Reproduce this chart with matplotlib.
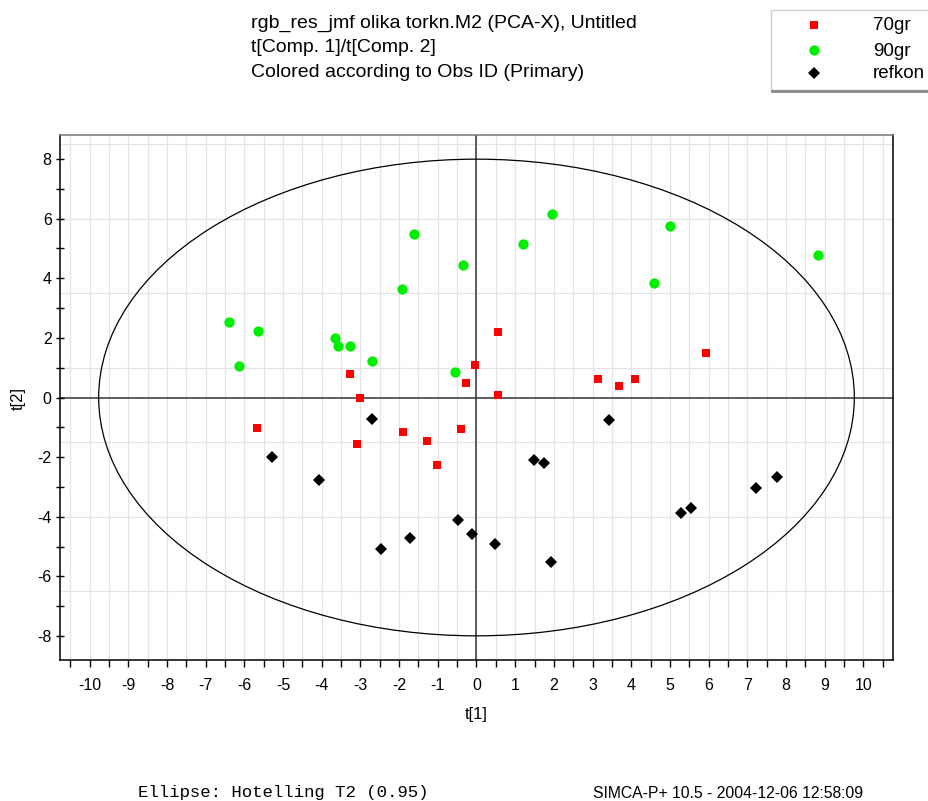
import matplotlib
matplotlib.use("Agg")
import matplotlib.pyplot as plt
import numpy as np
from matplotlib.patches import Ellipse, Rectangle
from matplotlib.lines import Line2D

# scores per class: t[1], t[2]
t1_70gr = [-3.28, -3.01, -0.26, -0.03, 0.56, 0.56, 3.15, 3.69, 4.10, 5.94,
           -5.68, -3.08, -1.91, -1.29, -1.03, -0.39]
t2_70gr = [0.79, 0.00, 0.49, 1.08, 2.20, 0.08, 0.62, 0.39, 0.62, 1.50,
           -1.02, -1.56, -1.16, -1.47, -2.26, -1.06]

t1_90gr = [-6.41, -6.13, -5.66, -3.67, -3.58, -3.27, -2.71, -1.93, -1.62, -0.36,
           -0.56, 1.96, 1.21, 5.01, 4.58, 8.82]
t2_90gr = [2.52, 1.06, 2.22, 2.01, 1.72, 1.72, 1.22, 3.63, 5.49, 4.44,
           0.86, 6.14, 5.13, 5.75, 3.84, 4.79]

t1_refkon = [-5.30, -4.07, -2.71, -2.48, -1.72, -0.47, -0.12, 0.47, 1.93, 1.49,
             1.74, 3.42, 5.30, 5.54, 7.22, 7.78]
t2_refkon = [-2.00, -2.75, -0.71, -5.08, -4.72, -4.11, -4.56, -4.91, -5.52, -2.09,
             -2.20, -0.75, -3.86, -3.70, -3.05, -2.66]

# Hotelling T2 (0.95) ellipse semi-axes
t2_radius_t1 = 9.77
t2_radius_t2 = 7.99

classes = ["70gr", "90gr", "refkon"]
styles = {
    "70gr": dict(marker="s", color="#ff0000", ms=6.0),
    "90gr": dict(marker="o", color="#00ee00", ms=7.4),
    "refkon": dict(marker="D", color="black", ms=6.3),
}
series = {"70gr": (t1_70gr, t2_70gr), "90gr": (t1_90gr, t2_90gr),
          "refkon": (t1_refkon, t2_refkon)}

plt.rcParams["font.family"] = ["Liberation Sans", "DejaVu Sans"]
plt.rcParams["axes.unicode_minus"] = False

W, H = 929, 801
fig = plt.figure(figsize=(W / 100, H / 100), dpi=100)
ax = fig.add_axes([60 / W, (H - 660) / H, 833 / W, 525 / H])

ax.set_xlim(-10.77, 10.77)
ax.set_ylim(-8.8, 8.8)

# grid
for gx in np.arange(-10.5, 10.51, 0.5):
    ax.axvline(gx, color="#e4e4e4", lw=0.9, zorder=0)
for gy in np.arange(-6.5, 8.6, 2.5):
    ax.axhline(gy, color="#e4e4e4", lw=0.9, zorder=0)
ax.axvline(0, color="#333333", lw=1.1, zorder=1)
ax.axhline(0, color="#333333", lw=1.1, zorder=1)

ax.add_patch(Ellipse((0, 0), 2 * t2_radius_t1, 2 * t2_radius_t2,
                     fill=False, ec="black", lw=0.9, zorder=2))

for name in classes:
    x, y = series[name]
    st = styles[name]
    ax.plot(x, y, linestyle="none", marker=st["marker"], color=st["color"],
            markersize=st["ms"], markeredgewidth=0, zorder=3)

# ticks
ax.set_xticks(np.arange(-10, 11, 1))
ax.set_xticklabels([str(v) for v in range(-10, 11)])
ax.set_xticks(np.arange(-10.5, 10.6, 0.5), minor=True)
ax.set_yticks(np.arange(-8, 9, 2))
ax.set_yticks(np.arange(-7, 8, 2), minor=True)
ax.tick_params(axis="x", which="both", direction="out", length=5, width=1,
               labelsize=11.5, pad=8)
ax.tick_params(axis="y", which="both", direction="inout", length=6, width=1,
               labelsize=11.5, pad=3)
for s in ["left", "bottom", "right"]:
    ax.spines[s].set_color("black")
    ax.spines[s].set_linewidth(1.1)
ax.spines["top"].set_color("#777777")
ax.spines["top"].set_linewidth(1.1)

fig.text(18 / W, 1 - 398 / H, "t[2]", rotation=90, ha="center", va="center",
         fontsize=12)
fig.text(476 / W, 1 - 715 / H, "t[1]", ha="center", va="center", fontsize=12)

# header
header = ["rgb_res_jmf olika torkn.M2 (PCA-X), Untitled",
          "t[Comp. 1]/t[Comp. 2]",
          "Colored according to Obs ID (Primary)"]
for i, line in enumerate(header):
    fig.text(251 / W, 1 - (28 + 24.5 * i) / H, line, ha="left", va="baseline",
             fontsize=14)

# legend box
fig.patches.append(Rectangle((771 / W, 1 - 90 / H), 0.3, 80 / H,
                             transform=fig.transFigure, fill=True, fc="white",
                             ec="#cccccc", lw=1, zorder=1))
fig.add_artist(Line2D([772 / W, 1], [1 - 91 / H, 1 - 91 / H],
                      transform=fig.transFigure, color="#888888", lw=2))
legend_y = [25, 50, 73]
for name, ly in zip(classes, legend_y):
    st = styles[name]
    fig.add_artist(Line2D([814 / W], [1 - ly / H], transform=fig.transFigure,
                          linestyle="none", marker=st["marker"],
                          color=st["color"], markersize=st["ms"],
                          markeredgewidth=0))
    fig.text(873 / W, 1 - (ly + 1) / H, name, ha="left", va="center",
             fontsize=13.5)

fig.text(138 / W, 1 - 793 / H, "Ellipse: Hotelling T2 (0.95)",
         family="Liberation Mono", fontsize=12.5, ha="left", va="center")
fig.text(593 / W, 1 - 793 / H, "SIMCA-P+ 10.5 - 2004-12-06 12:58:09",
         fontsize=11.3, ha="left", va="center")

fig.savefig("out.png", dpi=100)
